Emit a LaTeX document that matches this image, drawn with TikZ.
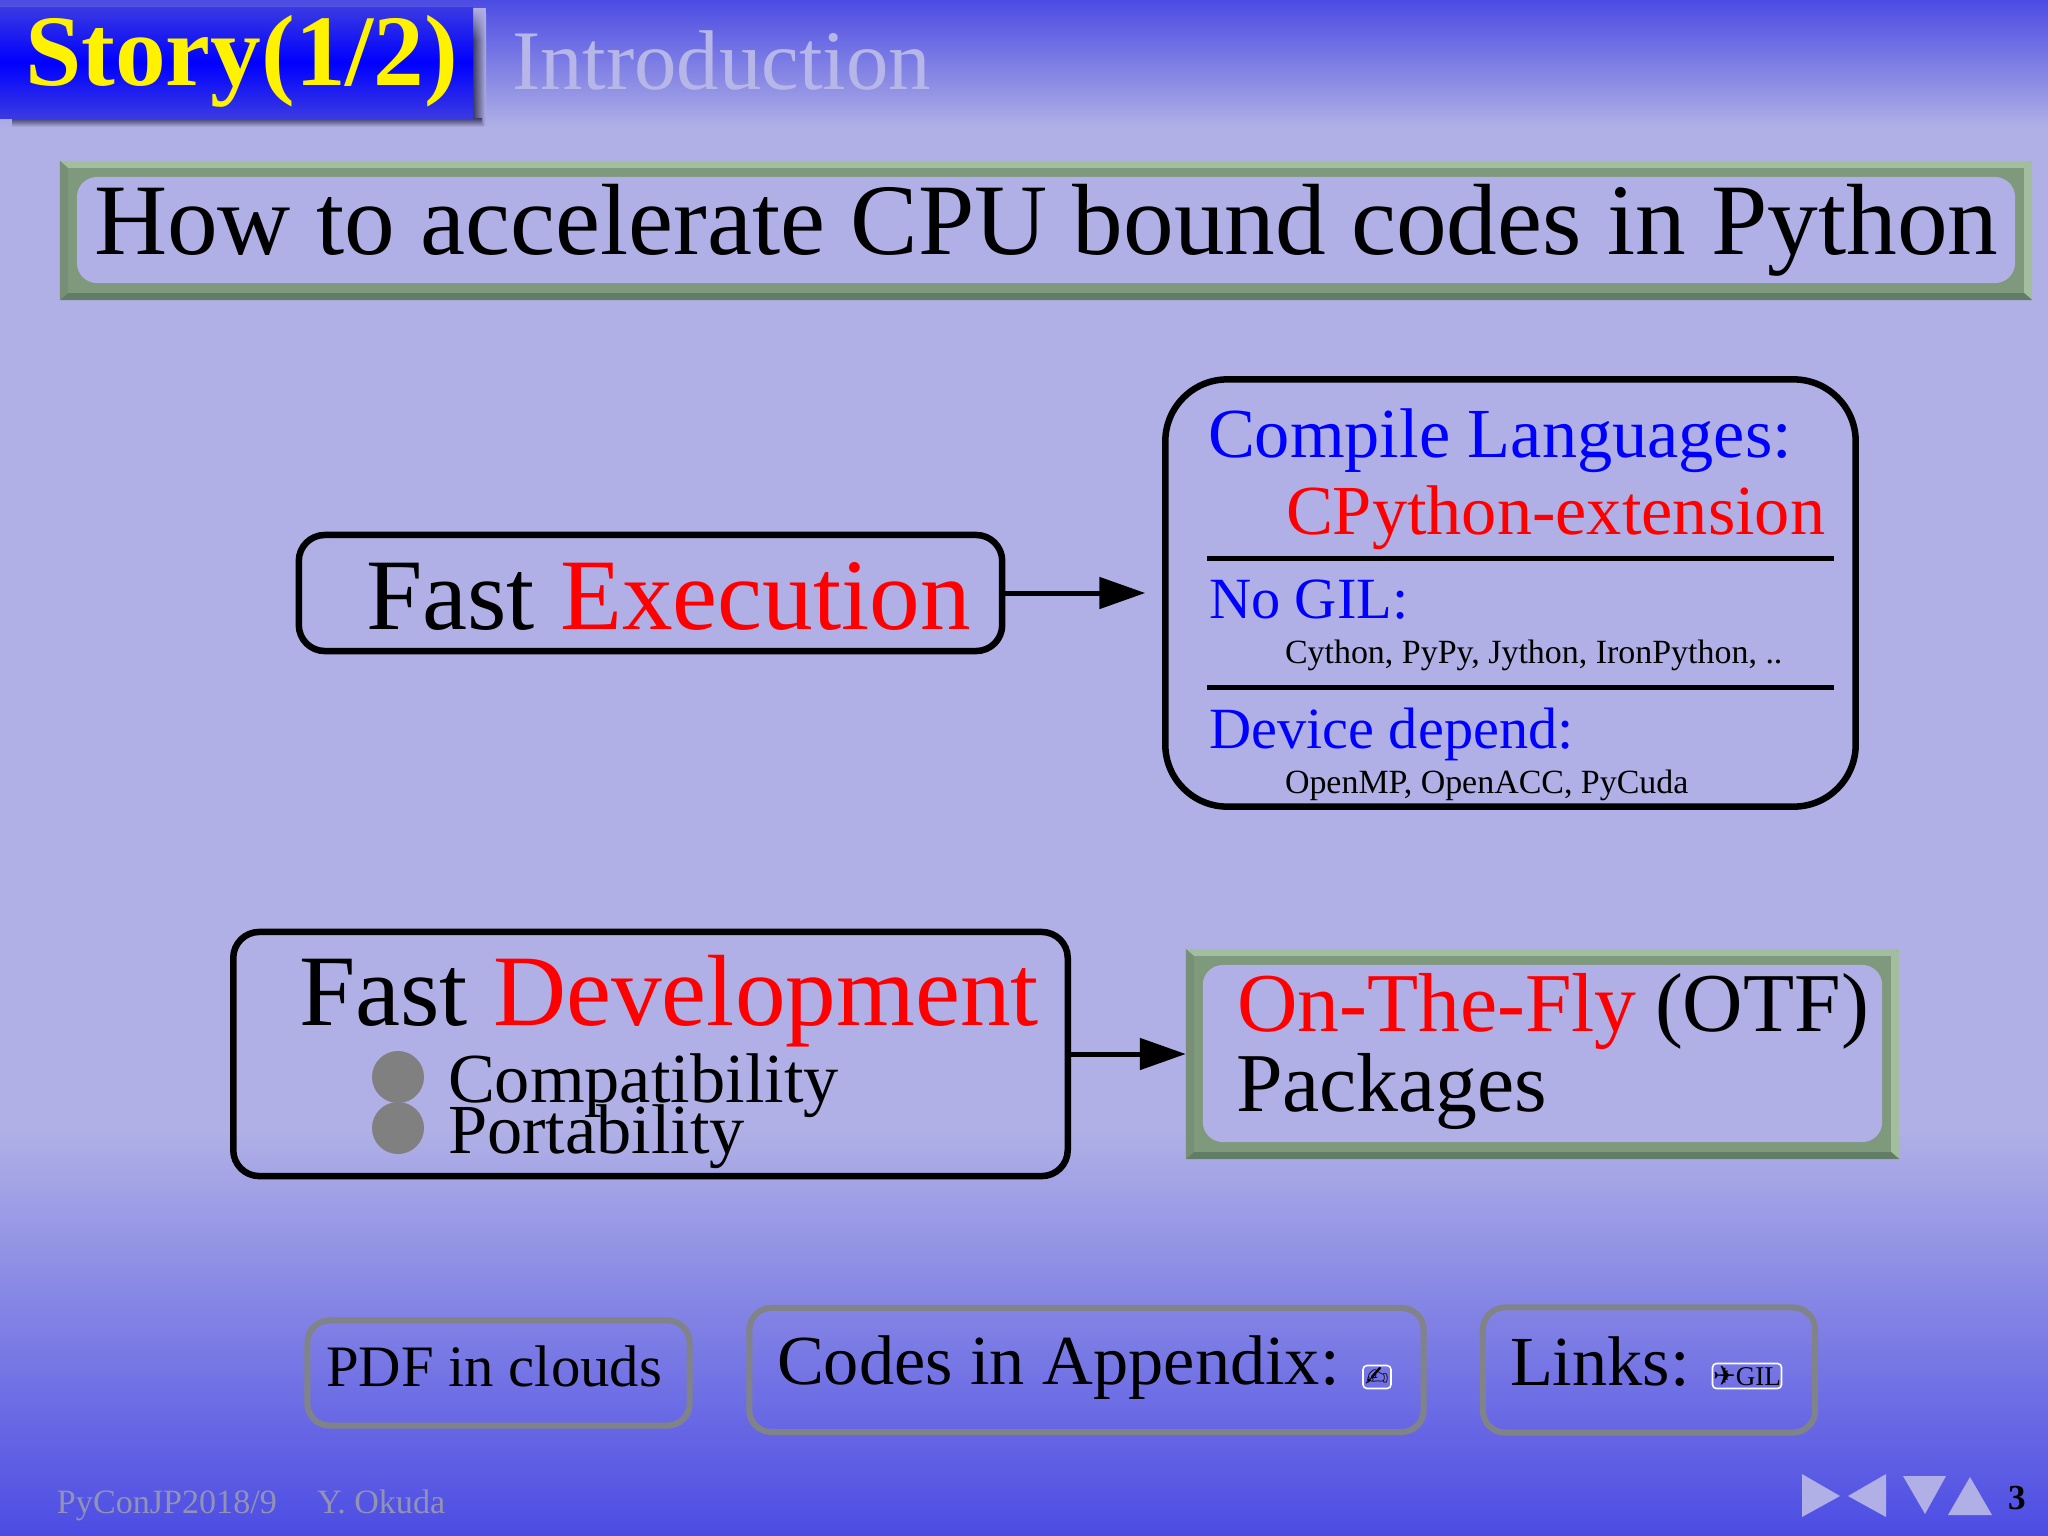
\documentclass[tikz,border=0pt]{standalone}
\usepackage{fontspec}
\setmainfont{Liberation Serif}
\newfontfamily\symfont{DejaVu Sans}
\usetikzlibrary{arrows.meta,fadings}
\definecolor{deepbg}{HTML}{4C4CE4}
\definecolor{palebg}{HTML}{B0B0E6}
\definecolor{storyblue}{HTML}{3A3AE2}
\definecolor{shadowdark}{HTML}{3C3C62}
\definecolor{bevelmid}{HTML}{7F997C}
\definecolor{bevellight}{HTML}{A3BD9F}
\definecolor{beveldark}{HTML}{627D66}
\definecolor{bevelleft}{HTML}{768F76}
\definecolor{graytext}{HTML}{9292B4}
\definecolor{graybox}{HTML}{808488}
\newcommand{\pt}[1]{\fontsize{#1}{#1}\selectfont}
\tikzset{
    label/.style={anchor=base west, inner sep=0pt, outer sep=0pt},
    roundbox/.style={draw=black, line width=.065cm, rounded corners=.26cm, inner sep=0pt, outer sep=0pt},
    linkbox/.style={draw=graybox, line width=.06cm, rounded corners=.22cm, inner sep=0pt, outer sep=0pt},
    bevelbox/.style={fill=bevelmid, inner sep=0pt, outer sep=0pt},
    iconbox/.style={draw=white, line width=.016cm, rounded corners=.04cm, inner sep=0pt, outer sep=0pt},
    flow/.style={line width=.05cm, -{Triangle[length=.46cm,width=.31cm]}},
    rulerline/.style={line width=.05cm},
    navtri/.style={fill=palebg}
}
% bevel edges and the pale panel of a bevelbox
\newcommand{\bevel}[1]{
    \fill[bevellight] (#1.north west) -- (#1.north east) -- ([shift={(-8,7)}]#1.north east) -- ([shift={(8,7)}]#1.north west) -- cycle;
    \fill[bevellight] (#1.north east) -- (#1.south east) -- ([shift={(-8,-7)}]#1.south east) -- ([shift={(-8,7)}]#1.north east) -- cycle;
    \fill[beveldark] (#1.south west) -- (#1.south east) -- ([shift={(-8,-7)}]#1.south east) -- ([shift={(8,-7)}]#1.south west) -- cycle;
    \fill[bevelleft] (#1.north west) -- (#1.south west) -- ([shift={(8,-7)}]#1.south west) -- ([shift={(8,7)}]#1.north west) -- cycle;
    \fill[palebg, rounded corners=.2cm] ([shift={(17,16)}]#1.north west) rectangle ([shift={(-17,-17)}]#1.south east);
}
\begin{document}
\begin{tikzpicture}[x=.01cm, y=-.01cm]
    \useasboundingbox (0,0) rectangle (2048,1536);
    \shade[top color=deepbg, bottom color=palebg] (0,0) rectangle (2048,128);
    \fill[palebg] (0,127) rectangle (2048,1130);
    \shade[top color=palebg, bottom color=deepbg] (0,1129) rectangle (2048,1536);

    % title tab
    \shade[left color=shadowdark, right color=palebg, rounded corners=.05cm] (473,8) rectangle (486,127);
    \shade[top color=shadowdark, bottom color=palebg] (12,118) rectangle (482,127);
    \fill[palebg, path fading=south] (473,8) rectangle (486,40);
    \shade[top color=storyblue, bottom color=storyblue, middle color=blue] (0,7) rectangle (473,118);
    \node[label, text=yellow, font=\pt{28.8}\bfseries] (story) at (25,85) {Story(1/2)};
    \node[label, text=palebg!92!white, font=\pt{24.1}] (intro) at (512,89) {Introduction};

    % headline
    \node[bevelbox, minimum width=19.71cm, minimum height=1.39cm] (headbox) at (1046,230.5) {};
    \bevel{headbox}
    \node[label, font=\pt{28.8}] (head) at (94,254) {How to accelerate CPU bound codes in Python};

    % fast execution
    \node[roundbox, minimum width=7.03cm, minimum height=1.16cm] (execbox) at (650.5,593) {};
    \node[label, font=\pt{28.8}] (exec) at (366,629) {Fast \textcolor{red}{Execution}};
    \node[roundbox, rounded corners=.62cm, minimum width=6.90cm, minimum height=4.27cm] (langbox) at (1510.5,593) {};
    \node[label, text=blue, font=\pt{20}] (compile) at (1208,457) {Compile Languages:};
    \node[label, text=red, font=\pt{20}] (cpython) at (1286,534) {CPython-extension};
    \coordinate (ruleA) at (1207,558);
    \coordinate (ruleAend) at (1834,558);
    \draw[rulerline] (ruleA) -- (ruleAend);
    \node[label, text=blue, font=\pt{16.6}] (nogil) at (1209,618) {No GIL:};
    \node[label, font=\pt{9.65}] (impls) at (1285,663) {Cython, PyPy, Jython, IronPython, ..};
    \coordinate (ruleB) at (1207,687);
    \coordinate (ruleBend) at (1834,687);
    \draw[rulerline] (ruleB) -- (ruleBend);
    \node[label, text=blue, font=\pt{16.6}] (device) at (1209,748) {Device depend:};
    \node[label, font=\pt{9.65}] (accel) at (1285,793) {OpenMP, OpenACC, PyCuda};
    \draw[flow, shorten >=.20cm] (execbox) -- (langbox);

    % fast development
    \node[roundbox, minimum width=8.34cm, minimum height=2.44cm] (devbox) at (650.5,1054) {};
    \node[label, font=\pt{28.8}] (dev) at (299,1025) {Fast \textcolor{red}{Development}};
    \node[circle, fill=gray, minimum size=.52cm, inner sep=0pt] (dotA) at (398,1077) {};
    \node[circle, fill=gray, minimum size=.52cm, inner sep=0pt] (dotB) at (398,1128) {};
    \node[label, font=\pt{20}] (compat) at (448,1102) {Compatibility};
    \node[label, font=\pt{20}] (port) at (448,1153) {Portability};

    \node[bevelbox, minimum width=7.13cm, minimum height=2.10cm] (otfbox) at (1542.5,1054) {};
    \bevel{otfbox}
    \node[label, font=\pt{23.8}] (otf) at (1237,1031) {\textcolor{red}{On-The-Fly}\hspace{5.2pt}(OTF)};
    \node[label, font=\pt{23.8}] (packages) at (1236,1111) {Packages};
    \draw[flow] (devbox) -- (otfbox);

    % bottom row
    \node[linkbox, minimum width=3.82cm, minimum height=1.05cm] (pdfbox) at (498.5,1373) {};
    \node[label, font=\pt{16.7}] (pdf) at (326,1386) {PDF in clouds};
    \node[linkbox, minimum width=6.74cm, minimum height=1.24cm] (codesbox) at (1086.5,1370) {};
    \node[label, font=\pt{20}] (codes) at (777,1384) {Codes in Appendix:};
    \node[iconbox, minimum width=.28cm, minimum height=.23cm, font=\symfont\pt{8}] (penicon) at (1377,1377) {✍};
    \node[linkbox, minimum width=3.32cm, minimum height=1.25cm] (linksbox) at (1649,1370) {};
    \node[label, font=\pt{20}] (links) at (1510,1385) {Links:};
    \node[iconbox, minimum width=.69cm, minimum height=.25cm, font=\pt{7.7}] (gilicon) at (1747,1376) {{\symfont ✈}GIL};

    % footer
    \node[label, text=graytext, font=\pt{9.7}] (event) at (57,1513) {PyConJP2018/9};
    \node[label, text=graytext, font=\pt{9.7}] (author) at (317,1513) {Y. Okuda};
    \fill[navtri] (1802,1474) -- (1840,1496) -- (1802,1517) -- cycle;
    \fill[navtri] (1886,1474) -- (1848,1496) -- (1886,1517) -- cycle;
    \fill[navtri] (1903,1476) -- (1946,1476) -- (1925,1514) -- cycle;
    \fill[navtri] (1948,1515) -- (1992,1515) -- (1970,1477) -- cycle;
    \node[label, font=\pt{10}\bfseries] (page) at (2008,1509) {3};
\end{tikzpicture}
\end{document}
